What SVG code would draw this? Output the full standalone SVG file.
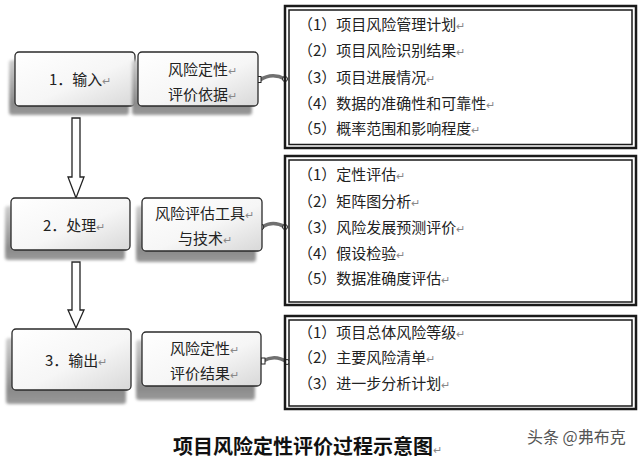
<svg xmlns="http://www.w3.org/2000/svg" width="640" height="460" viewBox="0 0 640 460">
<style>
.t{font-family:"Noto Sans CJK SC","Liberation Sans",sans-serif;font-size:15px;fill:#222}
.pm{font-size:11px;fill:#888}
.box{stroke:#2a2a2a;stroke-width:1.3;fill:url(#bg)}
.sh{fill:url(#sg);filter:url(#blur)}
.ob{fill:none;stroke:#1a1a1a;stroke-width:2.5}
.ib{fill:#fff;stroke:#1a1a1a;stroke-width:1.5}
.con{fill:none;stroke:#707070;stroke-width:3.5;stroke-linecap:round}
.end{fill:#fff;stroke:#222;stroke-width:1}
.arr{fill:#fff;stroke:#222;stroke-width:1.3}
.title{font-family:"Liberation Serif","Noto Sans CJK SC",serif;font-size:20px;font-weight:bold;fill:#111}
.wm{font-family:"Noto Sans CJK SC","Liberation Sans",sans-serif;font-size:16px;fill:#555}
</style>
<defs>
<linearGradient id="bg" x1="0" y1="0" x2="1" y2="1">
<stop offset="0" stop-color="#ffffff"/>
<stop offset="0.55" stop-color="#f6f6f6"/>
<stop offset="1" stop-color="#d8d8d8"/>
</linearGradient>
<linearGradient id="sg" x1="0" y1="0" x2="0" y2="1">
<stop offset="0" stop-color="#cfcfcf"/>
<stop offset="0.8" stop-color="#8a8a8a"/>
<stop offset="1" stop-color="#9a9a9a"/>
</linearGradient>
<filter id="blur" x="-10%" y="-20%" width="120%" height="150%">
<feGaussianBlur stdDeviation="1.8"/>
</filter>
</defs>
<rect width="640" height="460" fill="#ffffff"/>

<g id="connectors">
<polygon class="arr" points="72,118 80,118 80,177 84,177 76,198 68,177 72,177"/>
<polygon class="arr" points="72,262 80,262 80,310 84,310 76,328 68,310 72,310"/>
<path class="con" d="M260,80 Q272,72 285,79"/>
<rect class="end" x="257" y="76.5" width="4" height="6"/>
<circle class="end" cx="285" cy="79" r="2.5"/>
<path class="con" d="M262,227 Q273,220 285,227"/>
<circle class="end" cx="261" cy="227" r="2.8"/>
<circle class="end" cx="285" cy="227" r="2.5"/>
<path class="con" d="M263,361 Q275,354 287,362"/>
<rect class="end" x="261" y="358" width="4" height="6"/>
<circle class="end" cx="287" cy="362" r="2.5"/>
</g>

<g id="input">
<rect class="sh" x="9" y="60" width="120" height="55" rx="3"/>
<rect class="box" x="15" y="52" width="120" height="54" rx="4"/>
<text class="t" x="49" y="84.5">1．输入<tspan class="pm">↵</tspan></text>
</g>
<g id="input-basis">
<rect class="sh" x="132" y="60" width="120" height="55" rx="3"/>
<rect class="box" x="138" y="52" width="120" height="54" rx="4"/>
<text class="t" x="168" y="74.5">风险定性<tspan class="pm">↵</tspan></text>
<text class="t" x="168" y="99.5">评价依据<tspan class="pm">↵</tspan></text>
</g>
<g id="input-list">
<rect class="ob" x="285" y="6" width="351" height="142"/>
<rect class="ib" x="289" y="10" width="343" height="134.5"/>
<text class="t" x="298" y="29.5">（1）项目风险管理计划<tspan class="pm">↵</tspan></text>
<text class="t" x="298" y="55.5">（2）项目风险识别结果<tspan class="pm">↵</tspan></text>
<text class="t" x="298" y="82.5">（3）项目进展情况<tspan class="pm">↵</tspan></text>
<text class="t" x="298" y="108.5">（4）数据的准确性和可靠性<tspan class="pm">↵</tspan></text>
<text class="t" x="298" y="133.5">（5）概率范围和影响程度<tspan class="pm">↵</tspan></text>
</g>

<g id="process">
<rect class="sh" x="5" y="206" width="120" height="54" rx="3"/>
<rect class="box" x="11" y="198" width="119" height="52" rx="4"/>
<text class="t" x="43" y="230.5">2．处理<tspan class="pm">↵</tspan></text>
</g>
<g id="process-tools">
<rect class="sh" x="136" y="206" width="120" height="56" rx="3"/>
<rect class="box" x="142" y="198" width="120" height="53" rx="4"/>
<text class="t" x="155" y="218.5">风险评估工具<tspan class="pm">↵</tspan></text>
<text class="t" x="178" y="243.5">与技术<tspan class="pm">↵</tspan></text>
</g>
<g id="process-list">
<rect class="ob" x="285" y="156" width="351" height="149"/>
<rect class="ib" x="289" y="160" width="343" height="142"/>
<text class="t" x="298" y="179.5">（1）定性评估<tspan class="pm">↵</tspan></text>
<text class="t" x="298" y="206.5">（2）矩阵图分析<tspan class="pm">↵</tspan></text>
<text class="t" x="298" y="232.5">（3）风险发展预测评价<tspan class="pm">↵</tspan></text>
<text class="t" x="298" y="258.5">（4）假设检验<tspan class="pm">↵</tspan></text>
<text class="t" x="298" y="283.5">（5）数据准确度评估<tspan class="pm">↵</tspan></text>
</g>

<g id="output">
<rect class="sh" x="6" y="338" width="120" height="66" rx="3"/>
<rect class="box" x="12" y="329" width="119" height="61" rx="4"/>
<text class="t" x="45" y="365.5">3．输出<tspan class="pm">↵</tspan></text>
</g>
<g id="output-result">
<rect class="sh" x="136" y="340" width="119" height="60" rx="3"/>
<rect class="box" x="142" y="332" width="119" height="54" rx="4"/>
<text class="t" x="170" y="353.5">风险定性<tspan class="pm">↵</tspan></text>
<text class="t" x="170" y="378.5">评价结果<tspan class="pm">↵</tspan></text>
</g>
<g id="output-list">
<rect class="ob" x="285" y="316" width="351" height="93"/>
<rect class="ib" x="289" y="320" width="343" height="86"/>
<text class="t" x="298" y="337.5">（1）项目总体风险等级<tspan class="pm">↵</tspan></text>
<text class="t" x="298" y="362.5">（2）主要风险清单<tspan class="pm">↵</tspan></text>
<text class="t" x="298" y="388.5">（3）进一步分析计划<tspan class="pm">↵</tspan></text>
</g>

<text class="title" x="173" y="454">项目风险定性评价过程示意图<tspan class="pm" font-weight="normal">↵</tspan></text>
<text class="wm" x="527" y="443">头条 @弗布克</text>
</svg>
